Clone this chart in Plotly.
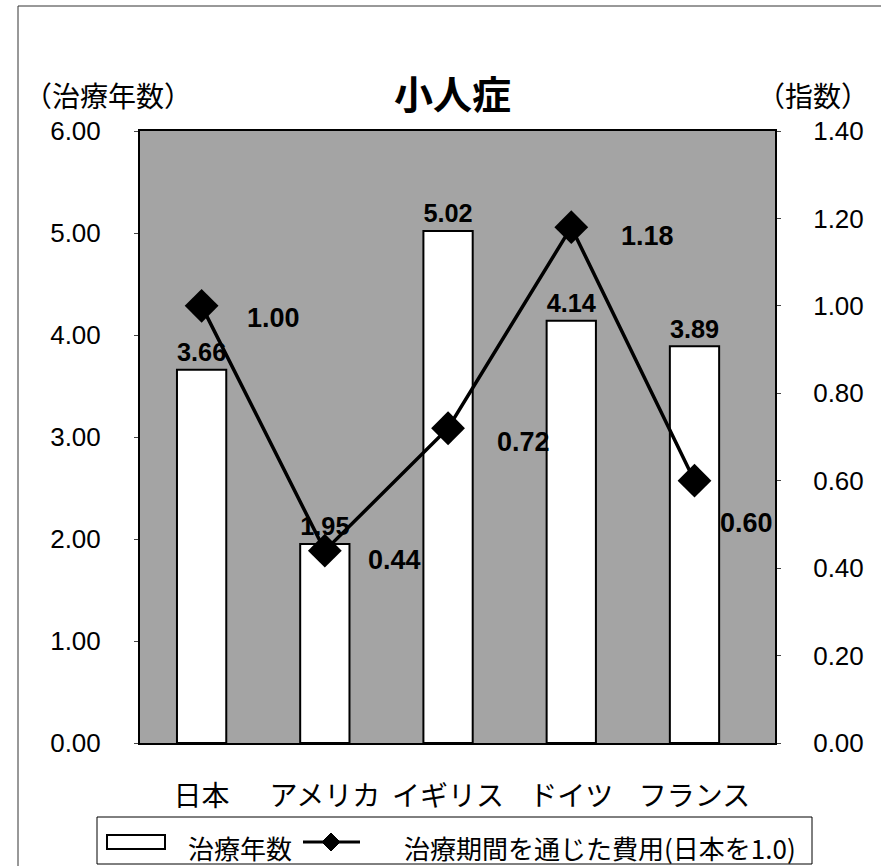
import plotly.graph_objects as go

categories = ["日本", "アメリカ", "イギリス", "ドイツ", "フランス"]
years = [3.66, 1.95, 5.02, 4.14, 3.89]
cost_index = [1.00, 0.44, 0.72, 1.18, 0.60]
left_ticks = [0, 1, 2, 3, 4, 5, 6]
right_ticks = [0, 0.2, 0.4, 0.6, 0.8, 1.0, 1.2, 1.4]

bar_name = "治療年数"
line_name = "治療期間を通じた費用(日本を1.0)"
title_text = "小人症"
left_title = "（治療年数）"
right_title = "（指数）"

# label offsets (pixels) for the line data labels
label_dx = [72, 70, 75, 76, 52]
label_dy = [-12, -9, -14, -9, -42]

FONT = "Liberation Sans, Arial, Noto Sans CJK JP"
JFONT = "Noto Sans CJK JP, Liberation Sans"

W, H = 881, 866
L, R, T, B = 140, 106, 131, 123
PW, PH = W - L - R, H - T - B


def px(x):
    return (x - L) / PW


def py(y):
    return (H - B - y) / PH


fig = go.Figure()
fig.add_trace(go.Bar(
    x=categories, y=years, name=bar_name, showlegend=False,
    marker=dict(color="white", line=dict(color="black", width=2)),
    text=[f"{v:.2f}" for v in years], textposition="outside",
    textfont=dict(family=FONT, size=27, color="black", weight="bold"),
    cliponaxis=False, yaxis="y",
))
fig.add_trace(go.Scatter(
    x=categories, y=cost_index, name=line_name, mode="lines+markers", showlegend=False,
    line=dict(color="black", width=3.5),
    marker=dict(symbol="diamond", size=26, color="black"),
    yaxis="y2", cliponaxis=False,
))

for c, v, dx, dy in zip(categories, cost_index, label_dx, label_dy):
    fig.add_annotation(x=c, y=v, xref="x", yref="y2", text=f"{v:.2f}",
                       showarrow=False, xshift=dx, yshift=dy,
                       font=dict(family=FONT, size=27, color="black", weight="bold"))

# titles
fig.add_annotation(x=px(452), y=py(92), xref="paper", yref="paper",
                   text=title_text, showarrow=False, yanchor="middle", xanchor="center",
                   font=dict(family=JFONT, size=39, color="black", weight="bold"))
fig.add_annotation(x=px(108), y=py(95), xref="paper", yref="paper",
                   text=left_title, showarrow=False, yanchor="middle", xanchor="center",
                   font=dict(family=JFONT, size=28, color="black"))
fig.add_annotation(x=px(813), y=py(95), xref="paper", yref="paper",
                   text=right_title, showarrow=False, yanchor="middle", xanchor="center",
                   font=dict(family=JFONT, size=28, color="black"))

# outer frame lines (top and left)
fig.add_shape(type="line", xref="paper", yref="paper", x0=px(18), x1=px(881), y0=py(6), y1=py(6),
              line=dict(color="#333333", width=1))
fig.add_shape(type="line", xref="paper", yref="paper", x0=px(18), x1=px(18), y0=py(6), y1=py(866),
              line=dict(color="#333333", width=1))

# custom legend
fig.add_shape(type="rect", xref="paper", yref="paper", x0=px(97), x1=px(812), y0=py(864), y1=py(817),
              line=dict(color="black", width=1), fillcolor="white")
fig.add_shape(type="rect", xref="paper", yref="paper", x0=px(107), x1=px(165), y0=py(849), y1=py(835),
              line=dict(color="black", width=2), fillcolor="white")
fig.add_annotation(x=px(186), y=py(847), xref="paper", yref="paper", text=bar_name,
                   showarrow=False, xanchor="left", yanchor="middle",
                   font=dict(family=JFONT, size=26, color="black"))
fig.add_shape(type="line", xref="paper", yref="paper", x0=px(303), x1=px(360), y0=py(842), y1=py(842),
              line=dict(color="black", width=3))
dcx, dcy, dh = 331, 842, 9
fig.add_shape(type="path", xref="paper", yref="paper",
              path=(f"M {px(dcx - dh)} {py(dcy)} L {px(dcx)} {py(dcy - dh)} "
                    f"L {px(dcx + dh)} {py(dcy)} L {px(dcx)} {py(dcy + dh)} Z"),
              line=dict(color="black", width=1), fillcolor="black")
fig.add_annotation(x=px(402), y=py(847), xref="paper", yref="paper", text=line_name,
                   showarrow=False, xanchor="left", yanchor="middle",
                   font=dict(family=JFONT, size=26, color="black"))

fig.update_layout(
    width=W, height=H,
    margin=dict(l=L, r=R, t=T, b=B),
    paper_bgcolor="white", plot_bgcolor="#a4a4a4",
    bargap=0.6, showlegend=False,
    font=dict(family=FONT, color="black"),
    xaxis=dict(showline=True, mirror=True, linecolor="black", linewidth=2,
               ticks="", tickfont=dict(family=JFONT, size=28, color="black"),
               ticklabelstandoff=27, showgrid=False),
    yaxis=dict(range=[0, 6], tickvals=left_ticks, ticktext=[f"{v:.2f}" for v in left_ticks],
               showgrid=False, zeroline=False, ticks="outside", ticklen=4,
               ticklabelstandoff=28,
               tickfont=dict(family=FONT, size=26, color="black"),
               showline=True, linecolor="black", linewidth=2),
    yaxis2=dict(range=[0, 1.4], tickvals=right_ticks, ticktext=[f"{v:.2f}" for v in right_ticks],
                overlaying="y", side="right", showgrid=False, zeroline=False,
                ticks="outside", ticklen=4, ticklabelstandoff=27,
                tickfont=dict(family=FONT, size=26, color="black"),
                showline=True, linecolor="black", linewidth=2),
)

fig.write_html("out.html", config={"displayModeBar": False},
               post_script="document.body.style.margin='0';")
